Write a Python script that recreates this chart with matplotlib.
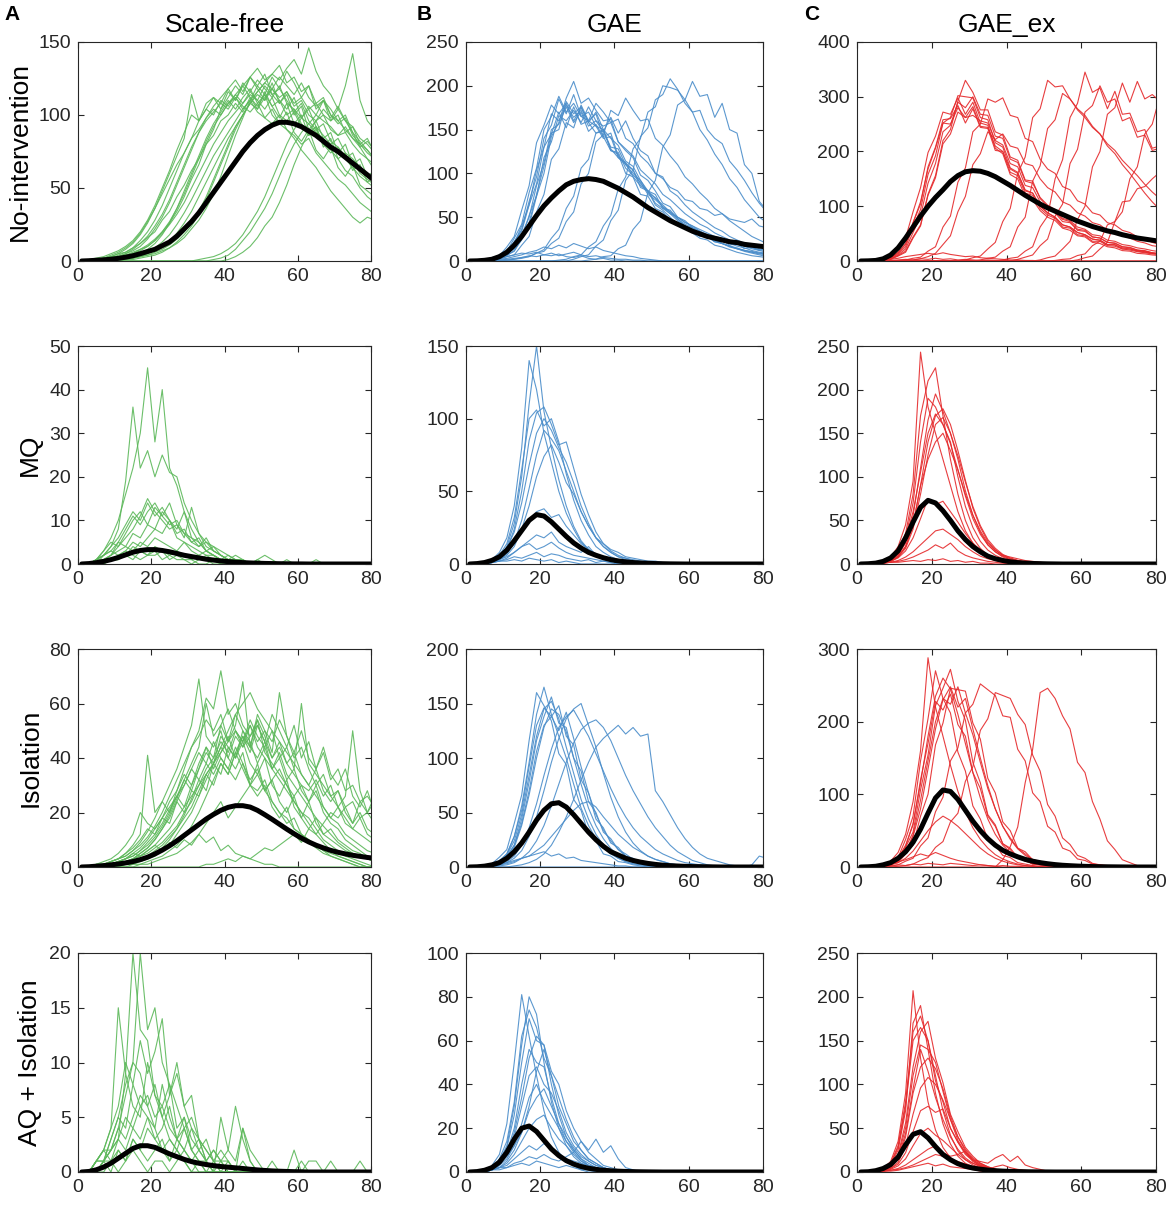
import numpy as np
import matplotlib
matplotlib.use('Agg')
import matplotlib.pyplot as plt

plt.rcParams['font.family'] = ['Liberation Sans', 'DejaVu Sans']

days = np.arange(1, 82, 2)   # 41 points

col_titles = ['Scale-free', 'GAE', 'GAE_ex']
row_labels = ['No-intervention', 'MQ', 'Isolation', 'AQ + Isolation']
panel_letters = ['A', 'B', 'C']

# ---------- row 1 : no intervention ----------
sf_none_mean = [0, 0.2, 0.5, 0.8, 1.2, 1.8, 2.6, 3.6, 5, 6.5, 8, 10.5, 13, 17, 22, 27, 33, 40, 47, 54,
                61, 68, 75, 81, 86, 90, 93, 95, 95, 94, 92, 89, 86, 82, 78, 75, 71, 67, 63, 59, 55]
sf_none_runs = [
    [0,0,0,1,2,3,5,7,10,15,22,30,40,52,64,76,88,98,106,112,118,110,122,116,124,118,112,120,108,104,98,104,92,86,80,84,74,70,64,60,56],
    [0,0,1,1,2,4,6,9,14,20,28,38,50,62,74,84,96,104,112,108,118,124,116,126,120,128,114,118,110,102,108,96,90,94,82,78,72,68,60,56,52],
    [0,1,1,2,3,3,4,6,8,11,15,20,27,36,46,58,70,82,92,100,108,114,120,126,132,124,128,134,122,126,116,120,108,112,100,94,98,86,80,76,70],
    [0,0,0,0,1,1,2,3,5,8,12,18,26,36,48,60,72,84,94,102,110,104,112,118,108,114,106,110,100,104,94,88,92,80,76,70,62,58,50,44,40],
    [0,0,1,2,4,6,9,13,19,27,36,46,56,66,74,84,90,98,104,100,108,112,104,110,102,98,104,94,90,86,80,84,74,68,62,56,52,46,40,36,32],
    [0]*18 + [1,2,4,8,14,20,28,36,46,58,70,80,88,94,100,96,92,86,88,80,74,70,66],
    [0]*20 + [1,3,6,10,16,24,30,40,52,66,78,88,96,104,98,106,96,92,84,80,74],
    [0,0,0,0,1,1,2,3,4,6,9,13,18,25,33,42,52,62,72,80,88,96,104,110,116,122,128,124,132,138,128,146,130,120,114,104,96,88,78,70,62],
    [0,0,0,1,2,3,5,8,12,17,24,32,42,54,66,78,88,96,102,108,104,112,106,102,108,98,94,100,90,84,76,70,64,56,48,42,36,30,26,30,28],
    [0,0,0,0,0,1,1,2,3,5,7,10,14,19,26,34,44,54,64,74,84,92,100,108,114,110,118,112,116,108,112,104,108,100,96,104,120,142,110,96,90],
    [0,0,1,2,3,5,8,12,18,26,36,48,60,72,84,114,96,104,100,110,106,114,108,116,110,104,112,100,96,102,92,86,90,80,74,78,70,64,58,54,50],
    [0,0,0,0,0,0,1,1,2,3,4,6,9,13,18,24,32,42,54,66,78,90,100,108,116,122,118,126,120,114,122,112,106,110,100,96,90,84,80,74,70],
    [0,0,1,1,2,2,3,5,7,10,14,19,25,32,40,50,60,70,80,88,96,102,108,114,110,120,114,108,116,106,110,100,96,100,90,86,92,84,78,82,76],
    [0,0,0,0,1,1,2,2,3,4,6,8,11,15,20,26,34,44,56,68,80,92,100,108,104,112,118,110,104,112,98,94,88,84,78,74,70,74,62,58,54],
    [0,0,0,1,2,2,4,5,8,10,14,20,26,34,44,56,66,80,90,104,112,120,114,126,118,110,122,108,114,100,106,90,96,84,88,74,80,66,70,58,62],
    [0,0,1,2,3,5,6,9,12,16,20,28,34,44,52,62,70,80,86,96,100,108,102,112,104,116,106,98,108,94,100,86,92,78,84,70,74,62,66,54,58],
    [0,0,0,0,1,1,2,2,3,4,5,7,9,12,16,22,28,36,46,58,72,86,98,110,120,114,126,118,130,122,112,120,104,110,96,100,88,92,80,84,74],
    [0,1,2,3,5,7,10,14,20,28,38,50,62,76,88,100,96,108,112,104,116,110,120,112,106,114,100,94,102,88,82,90,76,70,78,64,58,66,52,48,44],
    [0]*16 + [1,2,3,5,8,12,18,26,34,44,56,68,80,90,98,106,100,110,104,96,100,88,82,76,70],
]

gae_none_mean = [0, 0.2, 0.8, 2, 5, 10, 18, 28, 40, 52, 63, 72, 80, 87, 91, 93, 94, 93, 91, 87,
                 83, 78, 73, 67, 61, 56, 51, 46, 42, 38, 34, 31, 28, 26, 24, 22, 21, 19, 18, 17, 16]
gae_none_runs = [
    [0,0,1,4,6,16,28,58,86,135,155,178,168,180,160,175,158,146,150,128,118,112,96,86,80,66,60,54,46,40,36,30,28,22,20,16,14,11,9,7,5],
    [0,0,0,2,6,9,22,36,68,96,140,155,185,168,190,165,160,168,142,146,120,112,104,84,80,64,58,50,42,38,32,26,24,18,16,13,10,8,6,5,4],
    [0,0,1,2,5,7,17,26,52,74,118,136,166,160,172,158,176,160,154,158,136,128,120,104,96,88,76,70,62,54,48,42,38,32,28,24,20,17,14,12,10],
    [0,0,0,1,3,7,11,26,40,74,100,142,158,186,205,180,186,172,160,162,136,126,118,98,92,80,66,62,50,46,38,34,28,24,20,17,14,12,10,9,8],
    [0,0,1,3,7,11,26,42,78,106,150,165,188,170,180,165,170,154,140,142,118,110,104,88,80,72,62,56,48,42,38,32,28,24,20,17,14,12,10,8,7],
    [0,0,0,0,1,1,2,3,5,9,11,20,26,45,56,88,100,136,144,172,166,186,172,160,162,140,132,120,110,96,88,78,70,60,54,46,40,34,28,24,20],
    [0]*12 + [1,2,5,7,16,22,40,52,82,96,128,140,170,176,200,198,195,184,170,172,150,140,134,114,104,92,78,66,56],
    [0]*16 + [1,2,5,6,14,18,36,46,78,92,130,144,178,184,205,188,190,164,180,150,146,110,100,68,58],
    [0]*14 + [2,5,7,17,24,46,58,92,104,142,152,184,190,208,196,180,170,150,138,122,110,94,84,70,60,50,44],
    [0,0,1,2,3,5,7,9,8,10,7,6,8,5,4,6,3,2,3,1,1,0],
    [0,0,0,1,1,2,3,4,6,5,7,9,6,8,10,7,5,6,4,3,2,2,1,1,0],
    [0,0,0,0,0,1,2,4,5,9,13,26,36,60,74,106,116,146,148,164,146,160,140,126,120,100,96,80,74,64,56,50,44,38,34,28,24,20,17,14,12],
    [0,0,1,2,6,9,22,34,64,88,130,145,170,152,176,156,160,154,150,126,122,100,96,76,74,60,56,46,44,36,36,28,28,22,24,18,20,14,16,12,14],
    [0,0,0,1,2,5,7,18,28,56,76,116,128,158,152,178,160,180,170,158,162,140,134,120,112,100,94,84,80,70,68,60,58,52,54,48,46,44,48,40,38],
    [0,0,1,3,5,12,20,40,64,104,130,168,160,178,164,172,154,160,148,130,128,110,100,92,78,72,64,56,50,44,40,34,30,26,23,20,17,15,12,10,9],
    [0,0,0,1,3,6,12,24,44,76,108,146,150,182,168,176,158,170,150,140,132,114,108,92,80,76,60,58,48,40,38,30,28,22,20,17,15,12,11,9,8],
    [0,0,1,2,4,8,14,30,50,86,112,150,156,176,158,170,148,156,142,126,124,106,98,90,76,70,62,54,50,44,40,36,32,28,26,22,20,17,15,13,12],
    [0,0,0,1,2,3,5,7,10,12,16,14,18,15,20,17,14,16,12,10,8,6,5,3,2,1,0],
]

gaex_none_mean = [0, 0.3, 1, 4, 11, 24, 42, 62, 82, 100, 116, 130, 145, 156, 163, 165, 164, 160, 154, 146,
                  138, 129, 120, 112, 104, 97, 91, 85, 79, 73, 68, 63, 59, 55, 52, 48, 45, 42, 40, 38, 36]
gaex_none_runs = [
    [0,0,1,4,7,22,42,90,134,198,228,272,268,298,268,290,252,248,206,196,158,150,118,112,92,80,74,60,56,46,44,34,32,26,24,19,18,14,13,11,10],
    [0,0,0,2,5,13,26,62,94,158,192,252,262,302,300,298,262,258,216,208,170,162,128,124,100,88,80,66,62,52,48,40,38,30,30,22,22,18,16,14,12],
    [0,0,1,2,6,15,30,70,104,172,208,258,260,284,252,278,244,242,202,200,162,156,124,120,96,84,78,62,60,48,46,36,36,28,27,22,20,17,15,13,12],
    [0,0,0,1,3,9,16,42,64,122,156,220,240,292,330,308,276,276,236,230,190,184,148,146,114,100,90,76,72,58,56,44,42,34,32,26,24,20,18,15,13],
    [0,0,1,2,4,10,18,44,66,120,152,214,232,272,262,266,256,252,220,212,178,172,138,134,108,96,88,72,70,56,54,44,42,34,33,26,25,20,19,15,14],
    [0,0,0,0,0,1,2,5,7,18,26,62,82,144,170,236,250,296,290,298,266,262,224,218,186,168,160,136,130,110,104,88,84,70,66,56,52,44,40,34,30],
    [0]*14 + [2,6,9,22,34,72,96,160,190,262,278,330,318,320,296,276,262,244,232,214,202,184,170,156,140,126,114],
    [0]*19 + [2,5,7,18,26,62,82,150,185,262,288,345,308,316,278,310,268,270,236,240,206,210],
    [0]*24 + [2,6,9,22,36,76,100,172,200,268,280,325,290,328,296,304,292],
    [0]*29 + [2,6,9,22,34,72,90,150,172,232,250,300],
    [0]*21 + [3,7,11,28,40,82,104,178,204,272,284,320,290,296,256,262,226,230,202,206],
    [0,0,1,2,3,5,8,10,12,14,12,15,12,10,8,9,6,5,4,3,2,2,1,1,0],
    [0]*16 + [2,5,7,18,26,62,80,146,174,242,258,306,296,278,266,246,232,210,196,176,160,142,124,108,94],
    [0]*26 + [1,3,4,10,13,28,36,66,72,108,110,132,136,150,162],
    [0,0,1,3,6,16,32,70,108,168,206,252,250,280,262,282,246,244,210,200,168,160,130,124,100,88,80,66,62,52,48,40,38,30,29,24,22,19,17,14,13],
    [0,0,0,1,4,11,22,52,82,142,178,236,248,290,280,300,268,266,228,224,186,180,146,142,116,102,94,78,74,62,58,48,46,38,36,30,28,24,22,19,17],
    [0,0,0,0,0,0,1,2,4,8,14,30,46,90,118,176,196,236,222,232,210,206,178,174,150,134,126,108,102,88,82,70,66,56,52,46,42,36,33,28,26],
    [0,0,0,1,1,2,3,2,4,3,5,3,4,2,3,2,1,2,1,1,0],
]

# ---------- row 2 : MQ ----------
sf_mq_mean = [0, 0.1, 0.3, 0.6, 1.0, 1.5, 2.1, 2.7, 3.1, 3.3, 3.3, 3.1, 2.8, 2.4, 2.0, 1.7, 1.4, 1.1, 0.9, 0.7,
              0.55, 0.42, 0.32, 0.24, 0.18, 0.13, 0.1, 0.07, 0.05, 0.03, 0.02]
sf_mq_runs = [
    [0,0,1,3,6,10,16,22,30,45,28,40,22,18,12,8,5,3,2,1,1,0],
    [0,0,0,2,4,8,19,36,22,26,20,25,21,20,14,10,7,4,3,2,1,0],
    [0,0,1,2,4,6,9,12,10,14,11,13,10,8,12,6,5,3,2,1,0],
    [0,0,1,3,5,4,7,10,12,9,13,11,14,9,7,5,6,3,4,2,1,1,0],
    [0,0,0,1,2,4,6,8,11,15,12,10,8,9,6,13,7,5,4,3,2,1,1,0],
    [0,0,1,2,3,5,4,7,6,9,8,12,10,7,8,5,4,6,3,2,1,2,1,0],
    [0,0,0,1,1,2,3,5,4,6,8,7,10,6,5,4,3,2,2,1,1,0],
    [0,0,1,1,2,3,4,3,5,4,6,5,4,3,5,3,2,3,2,1,2,1,1,0,1,0],
    [0,0,0,0,1,1,2,4,3,2,4,3,2,3,2,1,2,1,0],
    [0,0,1,2,3,2,3,2,1,2,3,1,2,1,1,0,1,2,1,0,0,1,0,0,1,2,1,0,1,0,0,0,1,0],
    [0,0,0,1,2,5,8,11,9,12,14,11,9,10,7,6,4,5,3,2,1,1,0],
    [0,0,0,0,1,1,2,1,3,2,2,3,1,2,1,1,0,0,1,0],
]

gae_mq_mean = [0, 0.3, 1, 2.5, 5, 9.5, 16, 23, 30, 34, 33, 29, 24, 19, 14.5, 11, 8, 6, 4.3, 3,
               2.1, 1.5, 1, 0.7, 0.5, 0.3, 0.2, 0.1, 0.05]
gae_mq_runs = [
    [0,0,1,3,8,18,40,80,140,120,90,70,50,35,24,15,10,6,4,2,1,0],
    [0,0,0,2,5,12,28,60,110,150,105,80,58,40,26,16,10,6,3,2,1,0],
    [0,0,1,2,6,14,32,65,100,106,95,100,84,62,44,30,20,12,8,5,3,2,1,0],
    [0,0,0,1,4,10,24,50,85,104,108,96,82,84,66,48,34,22,14,9,6,4,2,1,0],
    [0,0,1,2,5,11,22,42,68,90,100,92,80,70,56,40,28,18,12,8,5,3,2,1,0],
    [0,0,0,1,3,7,15,30,52,75,92,86,78,64,50,36,26,18,12,8,5,4,3,2,1,0],
    [0,0,1,2,4,8,14,22,30,36,38,32,34,26,20,14,10,7,5,3,2,1,0],
    [0,0,0,1,2,4,8,12,16,20,18,22,15,12,10,8,12,6,4,3,2,1,0],
    [0,0,1,1,3,5,8,12,14,10,12,15,11,8,6,5,4,3,2,1,0],
    [0,0,0,1,2,3,5,4,6,8,5,7,6,4,3,2,3,1,2,1,0],
    [0,0,1,1,2,2,3,2,4,3,2,3,1,2,1,0],
    [0,0,0,1,3,6,12,24,40,60,74,82,70,56,48,36,26,18,14,10,8,5,4,3,2,2,1,1,0],
]

gaex_mq_mean = [0, 0.3, 1, 3, 7, 15, 30, 48, 65, 73, 70, 61, 50, 38, 28, 20, 14, 9, 6, 4,
                2.5, 1.6, 1, 0.6, 0.4, 0.2, 0.1]
gaex_mq_runs = [
    [0,0,1,3,8,20,45,95,243,180,150,120,90,60,38,24,14,8,5,3,2,1,0],
    [0,0,0,2,6,15,35,80,170,210,225,170,120,80,50,30,18,10,6,3,2,1,0],
    [0,0,1,2,5,12,30,70,140,190,180,160,140,100,66,42,26,16,10,6,4,2,1,0],
    [0,0,0,1,4,10,24,55,110,165,195,175,150,120,84,56,36,22,14,8,5,3,2,1,0],
    [0,0,1,2,4,9,20,44,90,140,170,178,160,130,96,64,42,26,16,10,6,4,2,1,0],
    [0,0,0,1,3,8,18,40,80,125,160,168,150,124,94,66,44,28,18,11,7,4,3,2,1,0],
    [0,0,1,2,5,12,28,60,105,150,172,160,138,108,78,52,34,22,14,9,6,4,2,1,0],
    [0,0,0,1,3,7,15,30,52,75,68,72,60,48,35,24,16,10,6,4,2,1,0],
    [0,0,1,1,2,4,8,14,22,30,38,40,34,28,20,14,9,6,4,2,1,0],
    [0,0,0,1,2,3,5,8,12,16,22,18,24,15,10,7,5,3,2,1,0],
    [0,0,1,1,2,2,3,4,3,5,4,6,3,4,2,3,1,1,0],
    [0,0,0,1,3,8,20,45,90,120,140,150,130,108,80,56,38,24,16,10,8,6,4,3,2,1,1,0],
]

# ---------- row 3 : isolation ----------
sf_iso_mean = [0, 0.1, 0.3, 0.5, 0.8, 1.1, 1.5, 2, 2.7, 3.6, 4.8, 6.2, 7.8, 9.6, 11.6, 13.6, 15.6, 17.6, 19.3, 20.8,
               21.9, 22.5, 22.5, 22, 20.8, 19.2, 17.5, 15.7, 13.9, 12.2, 10.6, 9.2, 8, 7, 6.1, 5.4, 4.8, 4.3, 3.9, 3.5, 3.2]
sf_iso_runs = [
    [0,0,0,1,2,3,5,8,12,41,20,24,30,36,44,52,69,48,44,50,40,36,42,30,28,32,24,20,16,18,12,10,8,6,4,3,2,1,0],
    [0,0,0,0,1,2,3,5,7,10,14,18,24,28,36,44,50,62,58,72,56,60,52,48,54,42,38,34,30,24,20,16,12,9,6,4,3,2,1,0],
    [0,0,1,1,2,3,4,6,8,11,15,20,26,32,38,44,48,54,50,56,46,52,68,44,40,46,36,32,28,24,20,18,14,10,8,6,4,3,2,1,0],
    [0,0,0,0,0,1,1,2,3,4,6,8,11,14,18,22,28,34,38,44,40,48,44,52,46,50,42,64,48,40,44,36,30,34,26,22,18,14,12,10,8],
    [0,0,0,1,1,2,2,3,4,5,7,9,12,15,20,24,30,36,40,46,42,50,46,54,48,44,50,40,44,36,60,38,34,30,26,28,22,24,18,20,16],
    [0,0,0,0,1,1,2,3,4,6,8,11,14,18,22,26,30,34,38,42,46,50,44,48,52,46,40,44,38,34,30,28,32,26,30,22,26,50,28,20,24],
    [0,0,0,0,0,0,0,0,1,1,2,3,4,5,7,9,12,16,20,24,18,22,26,30,34,28,32,36,30,26,30,24,28,20,16,14,10,8,6,4,2],
    [0,0,0,1,1,2,3,5,4,6,8,6,9,7,10,8,12,9,11,6,8,5,4,3,2,1,1,0],
    [0,0,1,2,3,5,8,12,20,16,14,18,22,26,30,36,42,38,46,40,36,44,38,32,36,28,24,20,18,14,12,9,7,5,4,3,2,1,0],
    [0,0,0,0,1,2,3,4,6,9,12,16,21,26,32,38,44,60,48,52,58,50,46,52,44,40,36,42,34,30,26,22,18,15,12,9,7,5,4,3,2],
    [0]*17 + [1,1,2,3,2,4,3,5,7,6,8,10,12,9,14,12,16,20,18,22,16,24,20,26],
    [0,0,0,0,0,0,1,1,2,3,4,6,8,12,16,20,26,32,38,44,50,56,60,64,58,54,50,46,42,38,34,30,26,22,18,16,12,10,8,6,5],
    [0,0,0,1,1,2,2,3,5,7,10,14,18,24,30,36,32,38,34,40,36,32,38,30,26,30,22,18,22,14,12,10,8,6,5,4,3,2,1,0],
    [0,0,0,0,1,1,2,3,5,7,10,14,19,25,32,28,36,44,40,52,46,56,50,44,54,48,40,46,38,42,34,30,36,28,24,28,20,16,20,14,12],
    [0,0,0,1,1,2,3,4,6,8,11,15,20,26,22,30,36,42,38,48,44,40,50,46,38,44,36,40,32,36,28,24,30,22,18,22,16,14,18,12,10],
    [0,0,0,0,0,1,1,2,2,3,5,7,10,14,19,25,32,28,38,34,44,40,48,42,52,46,56,50,44,52,40,46,36,42,32,36,28,30,24,26,22],
    [0,0,1,1,2,3,4,6,9,13,18,24,20,28,34,30,38,44,36,42,48,40,46,38,34,40,30,26,32,22,18,24,16,12,14,10,8,6,5,3,2],
    [0,0,0,0,0,0,0,1,1,2,3,4,6,8,11,15,20,26,32,38,34,42,48,44,56,50,46,54,48,42,50,40,36,44,34,30,36,26,22,28,20],
    [0,0,0,1,2,3,5,7,10,14,12,18,16,24,20,28,26,34,30,38,34,42,36,30,38,28,32,24,20,26,18,14,18,12,10,8,6,5,4,3,2],
]

gae_iso_mean = [0, 0.2, 0.8, 2, 4, 8, 14, 22, 32, 43, 52, 58, 59, 55, 48, 40, 32, 25, 19, 14,
                11, 8, 6, 4.5, 3.3, 2.4, 1.7, 1.2, 0.9, 0.6, 0.4, 0.3, 0.2, 0.1]
gae_iso_runs = [
    [0,0,1,3,9,16,40,66,116,160,148,134,104,94,62,52,30,24,12,10,5,4,2,1,0],
    [0,0,0,2,5,12,28,56,96,140,165,140,120,100,76,54,38,26,18,12,8,5,3,2,1,0],
    [0,0,1,2,5,11,24,48,84,120,145,152,136,110,86,62,44,30,20,13,8,5,3,2,1,0],
    [0,0,0,1,3,8,18,38,66,100,128,145,140,124,100,76,54,38,26,17,11,7,4,3,2,1,0],
    [0,0,1,2,4,9,20,40,70,106,130,138,125,142,118,92,68,48,34,24,16,10,6,4,2,1,0],
    [0,0,0,1,2,4,8,15,28,46,70,96,118,136,145,150,130,110,86,64,46,32,22,15,10,7,5,3,2,1,0],
    [0,0,0,0,1,2,4,8,14,24,38,56,76,96,114,126,132,135,128,116,100,84,70,58,46,36,28,20,14,10,6,4,2,1,0],
    [0,0,0,0,0,0,1,2,4,7,12,20,32,46,62,80,96,110,118,124,130,122,128,120,122,70,60,48,36,26,18,12,8,6,4,2,1,0],
    [0,0,1,1,2,4,6,8,10,12,14,10,12,8,9,6,5,4,3,2,1,1,0],
    [0,0,0,1,2,3,5,8,10,15,20,28,36,44,52,58,60,55,46,38,30,24,18,14,10,7,5,3,2,1,0],
    [0]*38 + [2,10,8],
    [0,0,0,1,2,5,10,20,36,58,84,108,128,138,144,132,120,104,88,72,58,46,36,28,22,16,12,9,6,4,3,2,1,0],
    [0,0,1,2,6,12,28,52,92,130,146,138,148,120,112,80,68,44,36,22,18,10,8,4,3,1,0],
    [0,0,0,1,4,10,20,44,78,116,138,156,132,128,100,88,60,50,32,26,16,12,7,5,3,1,0],
]

gaex_iso_mean = [0, 0.3, 1, 3, 6, 12, 21, 34, 52, 74, 95, 106, 104, 93, 78, 63, 50, 39, 30, 23,
                 18, 14, 10.5, 8, 6, 4.5, 3.3, 2.4, 1.8, 1.3, 0.9, 0.6, 0.4, 0.3, 0.2, 0.1]
gaex_iso_runs = [
    [0,0,1,3,8,20,45,90,160,288,220,180,140,104,76,54,38,26,17,11,7,4,2,1,0],
    [0,0,0,2,7,13,38,70,146,204,270,232,212,158,132,84,66,38,30,16,13,6,4,2,1,0],
    [0,0,1,2,5,12,28,60,115,180,235,260,245,210,170,130,95,66,45,30,20,13,8,5,3,2,1,0],
    [0,0,0,1,5,9,27,48,106,154,222,246,272,228,202,144,116,72,58,32,26,13,10,4,3,2,1,0],
    [0,0,1,2,4,9,20,42,80,135,190,230,248,220,232,190,150,112,80,56,38,25,16,10,6,4,2,1,0],
    [0,0,0,1,4,6,18,30,70,100,168,198,246,244,242,198,176,122,102,62,50,26,21,10,8,3,2,1,0],
    [0,0,0,0,1,3,8,12,29,40,76,96,146,164,212,224,252,244,236,208,206,162,146,102,90,56,48,26,22,11,9,4,3,2,1,0],
    [0]*19 + [10,28,55,116,162,240,246,232,208,190,144,130,90,66,36,24,10,6,2,0],
    [0,0,0,0,0,1,2,4,9,13,27,35,62,74,118,138,188,204,240,236,232,210,196,154,132,86,70,40,31,16,12,5,3,1,0],
    [0,0,1,2,4,7,10,14,18,15,20,16,12,9,7,5,3,2,1,0],
    [0,0,0,1,3,6,12,22,36,50,62,70,64,56,46,36,26,18,12,8,5,3,2,1,0],
    [0,0,1,1,2,3,2,4,3,5,4,3,5,4,3,2,3,2,1,2,1,1,0],
    [0,0,1,2,6,12,30,58,120,170,228,216,238,196,180,130,108,70,56,32,24,12,9,4,3,1,0],
    [0,0,0,1,3,8,20,44,92,146,200,232,224,248,212,182,144,108,80,56,40,26,18,10,7,3,2,1,0],
]

# ---------- row 4 : AQ + isolation ----------
sf_aq_mean = [0, 0.05, 0.2, 0.45, 0.8, 1.25, 1.7, 2.15, 2.4, 2.4, 2.25, 1.95, 1.65, 1.4, 1.15, 0.95, 0.8, 0.68, 0.58, 0.5,
              0.44, 0.38, 0.32, 0.25, 0.19, 0.14, 0.1, 0.07, 0.05, 0.03, 0.02]
sf_aq_runs = [
    [0,0,1,2,4,15,9,20,13,12,7,5,3,2,1,0],
    [0,0,0,1,3,5,8,10,20,13,15,10,8,6,4,2,1,0],
    [0,0,1,2,4,6,10,8,12,9,11,14,7,9,6,4,3,2,1,0],
    [0,0,0,1,2,4,7,10,9,6,8,5,7,10,6,7,3,2,1,1,0],
    [0,0,1,1,3,5,4,8,6,7,5,6,4,3,5,2,3,1,2,1,0],
    [0,0,0,1,2,3,5,4,6,5,3,4,6,3,2,4,2,3,1,2,1,0],
    [0,0,1,2,1,3,2,4,3,5,4,2,3,2,4,5,3,1,2,1,1,0,1,0],
    [0,0,0,0,1,2,1,3,2,4,3,2,1,3,2,1,2,1,0,1,2,6,3,1,0,0,0,0,0,0,1,0],
    [0,0,0,1,1,0,1,2,1,0,1,1,0,1,2,1,0,0,1,0,1,0,4,1,0,0,1,0,0,2,0,1,1,0,1,0,0,0,1,0],
    [0,0,1,2,2,4,3,5,7,6,4,8,5,3,4,2,1,1,0,5,2,1,4,2,1,0],
    [0,0,0,1,2,3,9,6,5,10,7,6,8,4,5,3,2,1,0],
    [0,0,1,1,0,2,1,3,2,1,2,3,1,2,1,0,1,0],
]

gae_aq_mean = [0, 0.2, 0.8, 2, 4.5, 9, 15, 20, 21, 18.5, 14.5, 10.5, 7.5, 5.2, 3.6, 2.5, 1.7, 1.2, 0.8, 0.55,
               0.38, 0.25, 0.16, 0.1, 0.06, 0.03]
gae_aq_runs = [
    [0,0,1,3,8,22,50,81,62,44,28,16,9,5,3,1,0],
    [0,0,0,2,5,12,30,58,80,72,50,32,20,12,7,4,2,1,0],
    [0,0,1,2,5,11,26,50,70,60,58,40,26,16,10,6,3,2,1,0],
    [0,0,0,1,4,9,20,40,56,50,48,34,22,14,9,5,3,2,1,0],
    [0,0,1,2,4,8,16,30,44,48,40,36,28,18,12,8,5,3,2,1,0],
    [0,0,0,1,3,6,12,22,34,40,32,26,20,14,10,6,4,2,1,0],
    [0,0,1,1,2,4,8,14,20,24,26,20,15,12,8,5,3,2,1,0],
    [0,0,0,1,2,3,6,9,12,10,13,11,8,6,5,4,3,2,1,0],
    [0,0,1,1,2,2,4,5,7,6,8,6,5,7,9,14,10,15,9,12,6,2,1,0],
    [0,0,0,1,1,2,3,4,3,5,4,3,2,3,2,1,1,0],
    [0,0,1,2,4,7,12,18,28,34,38,30,22,16,11,7,5,3,2,1,0],
    [0,0,0,1,2,5,10,18,30,46,56,44,34,24,16,10,6,4,2,1,0],
    [0,0,1,2,6,14,32,62,74,66,52,44,30,22,14,10,6,4,2,1,0],
    [0,0,0,1,3,8,18,34,52,62,58,46,40,28,20,14,9,6,3,2,1,0],
]

gaex_aq_mean = [0, 0.3, 1.5, 4, 8.5, 17, 31, 43, 46, 39, 29, 20, 14, 9.5, 6.5, 4.5, 3.2, 2.2, 1.5, 1,
                0.7, 0.45, 0.3, 0.2, 0.12, 0.07]
gaex_aq_runs = [
    [0,0,1,4,12,35,90,207,130,80,48,28,16,9,5,3,1,0],
    [0,0,0,2,8,25,70,170,190,140,90,55,32,18,10,6,3,2,1,0],
    [0,0,1,3,9,28,75,150,165,150,110,70,42,24,14,8,5,3,1,0],
    [0,0,0,2,6,18,50,110,145,140,125,92,60,36,22,12,7,4,2,1,0],
    [0,0,1,2,5,14,40,90,120,130,118,95,64,40,24,14,8,5,3,1,0],
    [0,0,0,1,4,11,30,66,96,108,100,82,60,40,26,16,10,6,3,2,1,0],
    [0,0,1,2,4,9,22,46,70,75,68,72,50,34,22,14,9,5,3,2,1,0],
    [0,0,0,1,3,7,15,30,44,50,42,36,28,20,14,10,7,5,3,2,1,0],
    [0,0,1,1,2,4,8,14,20,26,30,22,18,20,24,14,12,10,16,20,12,18,8,5,3,1,0],
    [0,0,0,1,1,2,4,6,8,10,7,9,6,5,4,3,2,2,1,1,0],
    [0,0,1,2,6,16,44,95,140,115,85,60,40,26,16,10,6,4,2,1,0],
    [0,0,0,1,2,3,5,8,12,16,20,18,14,12,9,6,4,3,6,8,5,3,2,1,0],
    [0,0,1,3,10,30,80,160,178,150,104,80,50,34,20,13,7,4,2,1,0],
    [0,0,0,2,7,20,56,120,160,172,130,102,66,46,28,18,10,6,3,2,1,0],
]

ylims = [[150, 250, 400], [50, 150, 250], [80, 200, 300], [20, 100, 250]]
ysteps = [[50, 50, 100], [10, 50, 50], [20, 50, 100], [5, 20, 50]]

panels = [
    [(sf_none_runs, sf_none_mean), (gae_none_runs, gae_none_mean), (gaex_none_runs, gaex_none_mean)],
    [(sf_mq_runs, sf_mq_mean), (gae_mq_runs, gae_mq_mean), (gaex_mq_runs, gaex_mq_mean)],
    [(sf_iso_runs, sf_iso_mean), (gae_iso_runs, gae_iso_mean), (gaex_iso_runs, gaex_iso_mean)],
    [(sf_aq_runs, sf_aq_mean), (gae_aq_runs, gae_aq_mean), (gaex_aq_runs, gaex_aq_mean)],
]

colors = ['#5cb85a', '#4a8dca', '#e5292b']


def pad(v):
    v = list(v)[:len(days)]
    return np.array(v + [0] * (len(days) - len(v)), dtype=float)


W, H = 1170, 1208
fig = plt.figure(figsize=(W / 100, H / 100), dpi=100)

col_x = [(78, 371), (466, 763), (857, 1156)]
row_y = [(42, 261), (346, 564), (649, 867), (953, 1172)]

for r in range(4):
    for c in range(3):
        x0, x1 = col_x[c]
        y0, y1 = row_y[r]
        ax = fig.add_axes([x0 / W, 1 - y1 / H, (x1 - x0) / W, (y1 - y0) / H])
        runs, mean = panels[r][c]
        for run in runs:
            ax.plot(days, pad(run), color=colors[c], lw=0.8, alpha=0.9)
        ax.plot(days, pad(mean), color='black', lw=3.6, solid_capstyle='round')
        ax.set_xlim(0, 80)
        ax.set_ylim(0, ylims[r][c])
        ax.set_xticks([0, 20, 40, 60, 80])
        ax.set_yticks(np.arange(0, ylims[r][c] + 1, ysteps[r][c]))
        ax.tick_params(direction='in', top=True, right=True, length=4, width=0.8,
                       labelsize=14, pad=5, colors='#262626')
        for s in ax.spines.values():
            s.set_color('#262626')
            s.set_linewidth(0.8)
        if c == 0:
            ax.set_ylabel(row_labels[r], fontsize=19, labelpad=5)
        if r == 0:
            fig.text((x0 + x1) / 2 / W, 1 - 32 / H, col_titles[c], ha='center', va='baseline', fontsize=19)

letter_x = [12, 424, 812]
for c in range(3):
    fig.text(letter_x[c] / W, 1 - 15 / H, panel_letters[c], ha='center', va='center',
             fontsize=15, fontweight='bold')

fig.savefig('out.png', dpi=100)
